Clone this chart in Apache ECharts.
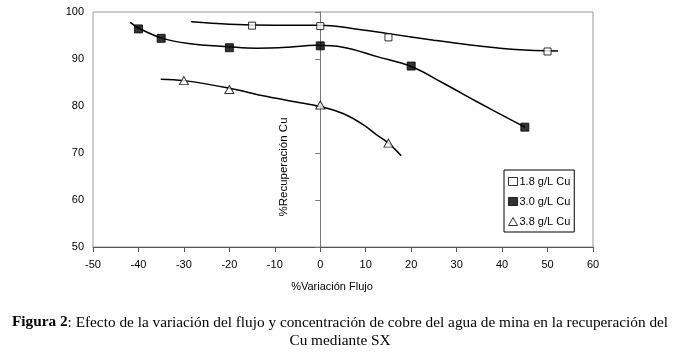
<!DOCTYPE html>
<html>
<head>
<meta charset="utf-8">
<script src="https://cdn.jsdelivr.net/npm/echarts@6/dist/echarts.min.js"></script>
<style>
  html, body { margin: 0; padding: 0; background: #fff; }
  #chart { width: 687px; height: 354px; }
</style>
</head>
<body>
<div id="chart"></div>
<script>
// measured points [%variation, %recovery]
const pts18 = [[-15, 97.1], [0, 97.0], [15, 94.6], [50, 91.6]];
const pts30 = [[-40, 96.4], [-35, 94.4], [-20, 92.4], [0, 92.8], [20, 88.5], [45, 75.5]];
const pts38 = [[-30, 85.4], [-20, 83.5], [0, 80.2], [15, 72.1]];

// trend curves
const fit18 = [[-28.4, 97.9], [-20, 97.4], [-10, 97.2], [0, 97.2], [7, 96.5], [15, 95.4], [25, 94.0], [33, 93.0], [43, 92.0], [52.3, 91.7]];
const fit30 = [[-41.8, 97.8], [-40, 96.6], [-35, 94.5], [-29, 93.3], [-20, 92.6], [-14, 92.3], [-7, 92.5], [-1, 92.9], [5, 92.5], [12.5, 90.5], [20, 88.4], [27, 84.9], [34.5, 80.9], [45, 75.5]];
const fit38 = [[-35.1, 85.7], [-30, 85.4], [-20.5, 83.9], [-11.7, 82.0], [-4.4, 80.7], [0, 79.9], [5, 78.4], [9.5, 76.0], [12.5, 73.8], [15, 72.1], [17.8, 69.4]];

const seriesNames = ["1.8 g/L Cu", "3.0 g/L Cu", "3.8 g/L Cu"];

const font = "'Liberation Sans', Arial, sans-serif";
const serif = "'Liberation Serif', 'Times New Roman', serif";

const chart = echarts.init(document.getElementById('chart'), null, { renderer: 'canvas' });

const fitLine = (data) => ({
  type: 'line',
  data: data,
  smooth: 0.4,
  showSymbol: false,
  silent: true,
  lineStyle: { color: '#000', width: 1.5 },
  z: 2
});

const option = {
  animation: false,
  backgroundColor: '#fff',
  textStyle: { fontFamily: font },
  title: [
    {
      text: '{b|Figura 2}: Efecto de la variación del flujo y concentración de cobre del agua de mina en la recuperación del',
      left: 340, top: 315, textAlign: 'center', padding: 0,
      textStyle: {
        fontFamily: serif, fontSize: 15.3, fontWeight: 'normal', color: '#000',
        rich: { b: { fontFamily: serif, fontSize: 15.3, fontWeight: 'bold', color: '#000' } }
      }
    },
    {
      text: 'Cu mediante SX',
      left: 340, top: 333, textAlign: 'center', padding: 0,
      textStyle: { fontFamily: serif, fontSize: 15.3, fontWeight: 'normal', color: '#000' }
    }
  ],
  grid: {
    left: 93, right: 94, top: 12, bottom: 107,
    containLabel: false,
    outerBoundsMode: 'none',
    show: true,
    borderColor: '#999',
    borderWidth: 1
  },
  legend: {
    data: seriesNames,
    orient: 'vertical',
    left: 504, top: 170,
    padding: [6, 4, 5, 4],
    itemGap: 9,
    itemWidth: 9, itemHeight: 8,
    itemStyle: { borderWidth: 1 },
    borderColor: '#000',
    borderWidth: 1,
    backgroundColor: '#fff',
    textStyle: { fontFamily: font, fontSize: 11, color: '#000', padding: [0, 0, 0, -3] }
  },
  graphic: [
    {
      type: 'text',
      x: 284, y: 167,
      rotation: Math.PI / 2,
      style: {
        text: '%Recuperación Cu',
        font: '11.5px ' + font,
        fill: '#000',
        align: 'center',
        verticalAlign: 'middle'
      }
    }
  ],
  xAxis: {
    type: 'value',
    min: -50, max: 60, interval: 10,
    name: '%Variación Flujo',
    nameLocation: 'middle',
    nameGap: 34,
    nameTextStyle: { fontFamily: font, fontSize: 11, color: '#000', padding: [0, 22, 0, 0] },
    axisLine: { onZero: false, lineStyle: { color: '#555', width: 1 } },
    axisTick: { length: 5, lineStyle: { color: '#555' } },
    axisLabel: { margin: 12, fontSize: 11, color: '#000', fontFamily: font },
    splitLine: { show: false }
  },
  yAxis: {
    type: 'value',
    min: 50, max: 100, interval: 10,
    axisLine: { show: true, onZero: true, lineStyle: { color: '#777', width: 1 } },
    axisTick: { show: true, length: 5, lineStyle: { color: '#777' } },
    axisLabel: { margin: 9, fontSize: 11, color: '#000', fontFamily: font },
    splitLine: { show: false }
  },
  series: [
    fitLine(fit18),
    fitLine(fit30),
    fitLine(fit38),
    {
      name: seriesNames[0], type: 'scatter', data: pts18,
      symbol: 'rect', symbolSize: 7,
      itemStyle: { color: '#fff', borderColor: '#000', borderWidth: 1 },
      z: 3
    },
    {
      name: seriesNames[1], type: 'scatter', data: pts30,
      symbol: 'rect', symbolSize: 8,
      itemStyle: { color: '#000', borderColor: '#000', borderWidth: 1 },
      z: 3
    },
    {
      name: seriesNames[2], type: 'scatter', data: pts38,
      symbol: 'triangle', symbolSize: [9, 8],
      itemStyle: { color: '#fff', borderColor: '#000', borderWidth: 1 },
      z: 3
    }
  ]
};

chart.setOption(option);
</script>
</body>
</html>
